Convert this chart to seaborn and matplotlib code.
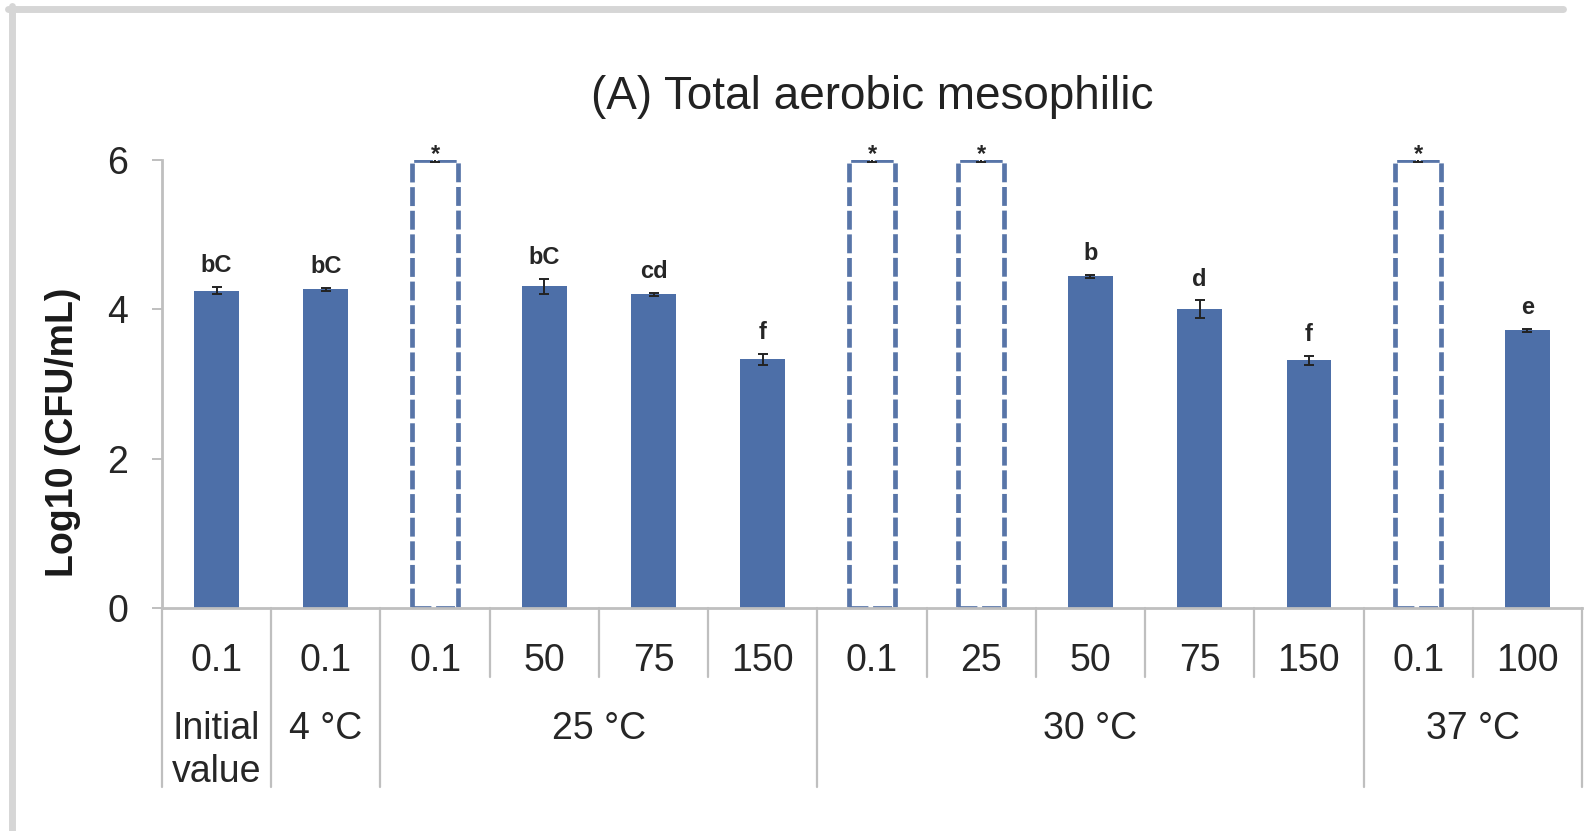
import numpy as np
import pandas as pd
import matplotlib
matplotlib.use("Agg")
import matplotlib.pyplot as plt
import seaborn as sns
from matplotlib.transforms import blended_transform_factory
from matplotlib.lines import Line2D

# ---------------- data ----------------
tick_labels = ["0.1", "0.1", "0.1", "50", "75", "150", "0.1", "25", "50", "75", "150", "0.1", "100"]
group_labels = ["Initial\nvalue", "4 °C", "25 °C", "30 °C", "37 °C"]
group_sizes = [1, 1, 4, 5, 2]
values = [4.25, 4.27, np.nan, 4.31, 4.20, 3.33, np.nan, np.nan, 4.44, 4.00, 3.32, np.nan, 3.72]
placeholder = [np.nan, np.nan, 6, np.nan, np.nan, np.nan, 6, 6, np.nan, np.nan, np.nan, 6, np.nan]
errors = [0.05, 0.02, 0.03, 0.10, 0.02, 0.07, 0.03, 0.03, 0.02, 0.12, 0.06, 0.03, 0.02]
letters = ["bC", "bC", "*", "bC", "cd", "f", "*", "*", "b", "d", "f", "*", "e"]
title = "(A) Total aerobic mesophilic"
ylabel = "Log10 (CFU/mL)"
yticks = [0, 2, 4, 6]

# ---------------- style ----------------
sns.set_theme(style="white")
plt.rcParams["font.family"] = ["Liberation Sans", "DejaVu Sans"]
W, H = 1586, 831
bar_color = "#4d6fa8"
dash_color = "#5875a8"
grid_gray = "#bfbfbf"
text_color = "#262626"

fig = plt.figure(figsize=(W / 100, H / 100), dpi=100)
ax_left, ax_right, ax_top, ax_bottom = 162, 1582, 160, 608
ax = fig.add_axes([ax_left / W, 1 - ax_bottom / H, (ax_right - ax_left) / W, (ax_bottom - ax_top) / H])

n = len(tick_labels)
df = pd.DataFrame({"pos": np.arange(n), "value": values, "placeholder": placeholder,
                   "err": errors, "letter": letters})

sns.barplot(data=df, x="pos", y="value", color=bar_color, saturation=1, width=0.41,
            errorbar=None, ax=ax, linewidth=0)
n_solid = len(ax.patches)
sns.barplot(data=df, x="pos", y="placeholder", color=dash_color, saturation=1, width=0.42,
            errorbar=None, ax=ax, fill=False)
for p in ax.patches[n_solid:]:
    p.set_edgecolor(dash_color)
    p.set_facecolor("none")
    p.set_linewidth(3.4)
    p.set_linestyle((0, (4, 1)))

heights = np.where(np.isnan(df["value"]), df["placeholder"], df["value"])
ax.errorbar(df["pos"], heights, yerr=df["err"], fmt="none", ecolor="#222222",
            elinewidth=1.4, capsize=3.5, capthick=1.4, zorder=5)

for i in range(n):
    if letters[i] == "*":
        off, va = (0, -2), "baseline"
    else:
        off, va = (0, 7), "bottom"
    ax.annotate(letters[i], (i, heights[i] + errors[i]), xytext=off,
                textcoords="offset points", ha="center", va=va,
                fontsize=17, fontweight="bold", color=text_color, annotation_clip=False)

ax.set_xlim(-0.5, n - 0.5)
ax.set_ylim(0, 6)
ax.set_yticks(yticks)
ax.set_yticklabels([str(t) for t in yticks])
ax.set_xticks(np.arange(n))
ax.set_xticklabels(tick_labels)
ax.set_xlabel("")
ax.set_ylabel("")
ax.tick_params(axis="x", length=0, pad=25, labelsize=27, labelcolor=text_color)
ax.tick_params(axis="y", left=True, length=7.2, width=1.4, color=grid_gray, pad=17,
               labelsize=27, labelcolor=text_color)
for s in ["top", "right"]:
    ax.spines[s].set_visible(False)
for s in ["left", "bottom"]:
    ax.spines[s].set_color(grid_gray)
    ax.spines[s].set_linewidth(2)

# category separators (multi-level axis)
trans = blended_transform_factory(ax.transData, ax.transAxes)
axh = ax_bottom - ax_top
bounds = set(np.concatenate([[0], np.cumsum(group_sizes)]).tolist())
for k in range(n + 1):
    depth = (787 - ax_bottom) if k in bounds else (677 - ax_bottom)
    ax.add_line(Line2D([k - 0.5, k - 0.5], [0, -depth / axh], transform=trans,
                       color=grid_gray, lw=1.6, clip_on=False))

start = 0
for lab, size in zip(group_labels, group_sizes):
    center = start + (size - 1) / 2
    ax.text(center, -(711 - ax_bottom) / axh, lab, transform=trans, ha="center", va="top",
            fontsize=27, color=text_color, linespacing=1.25)
    start += size

fig.text(872 / W, 1 - 97 / H, title, ha="center", va="center", fontsize=33, color="#222222")
fig.text(63 / W, 1 - 432 / H, ylabel, rotation=90, ha="center", va="center",
         fontsize=27, fontweight="bold", color="#1a1a1a")

# outer frame (top and left)
fig.add_artist(Line2D([8 / W, 1563 / W], [1 - 8.5 / H] * 2, transform=fig.transFigure,
                      color="#d6d6d6", lw=5))
fig.add_artist(Line2D([11.5 / W] * 2, [0, 1 - 6 / H], transform=fig.transFigure,
                      color="#d6d6d6", lw=5))

fig.savefig("out.png", dpi=100)
